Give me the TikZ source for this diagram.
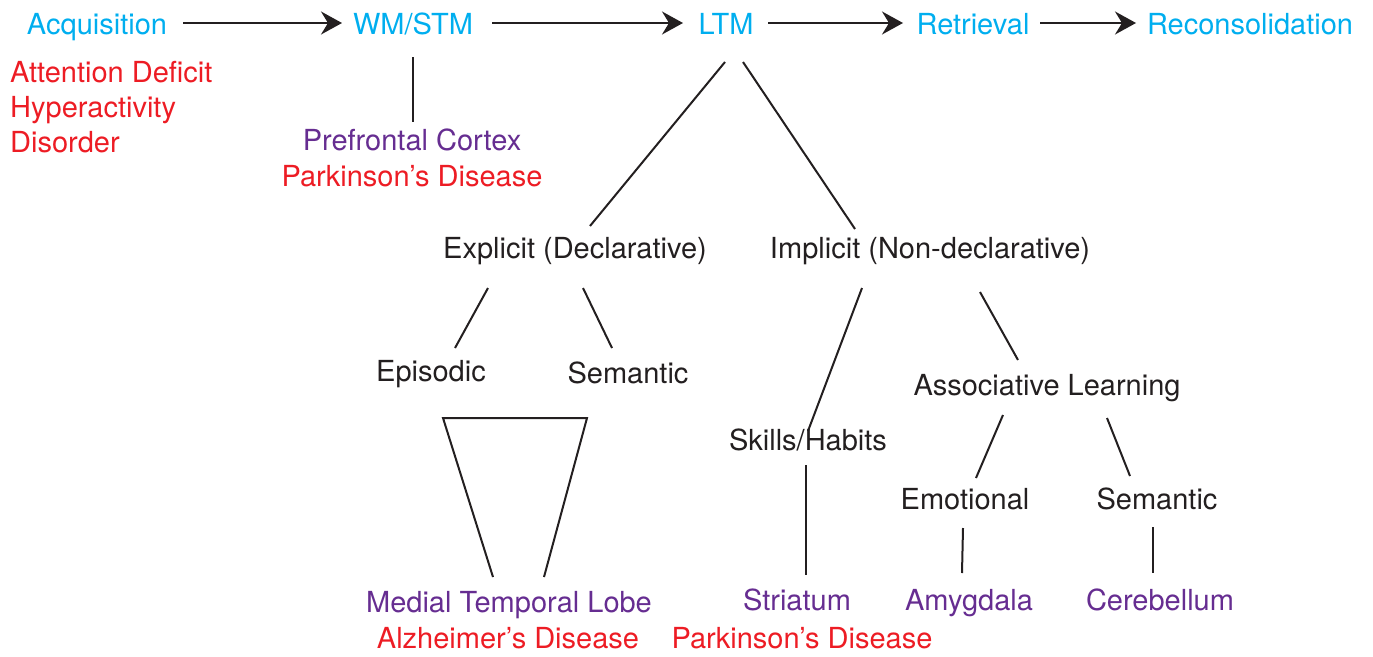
\documentclass[tikz,border=0pt]{standalone}
\usepackage{fontspec}
\setmainfont{TeX Gyre Heros}
\usetikzlibrary{arrows.meta}
\definecolor{cy}{HTML}{00AEEF}
\definecolor{rd}{HTML}{ED1C24}
\definecolor{pu}{HTML}{662D91}
\definecolor{bk}{HTML}{231F20}
\begin{document}
\begin{tikzpicture}[x=1pt,y=-1pt,
  every node/.style={inner sep=0pt,anchor=base,font=\fontsize{29}{35}\selectfont},
  stage/.style={text=cy},
  dis/.style={text=rd},
  region/.style={text=pu},
  kind/.style={text=bk},
  link/.style={draw=bk,line width=2pt},
  flow/.style={link,-{Stealth[length=21pt,width=23pt,inset=7pt]}}]
\useasboundingbox (0,0) rectangle (1373,656);
% top row
\node[stage] (acq) at (97,34) {Acquisition};
\node[stage] (wm) at (413,34) {WM/STM};
\node[stage] (ltm) at (726,34) {LTM};
\node[stage] (ret) at (973,34) {Retrieval};
\node[stage] (rec) at (1250,34) {Reconsolidation};
\draw[flow] (183,23) coordinate (a1) -- (342,23) coordinate (a2);
\draw[flow] (492,23) coordinate (b1) -- (683,23) coordinate (b2);
\draw[flow] (768,23) coordinate (c1) -- (903,23) coordinate (c2);
\draw[flow] (1040,23) coordinate (d1) -- (1136,23) coordinate (d2);
% ADHD
\node[dis,anchor=base west,align=left] (adhd) at (10,152) {Attention Deficit\\Hyperactivity\\Disorder};
% WM branch
\node[region] (pfc) at (412,150) {Prefrontal Cortex};
\node[dis] (pd1) at (412,186) {Parkinson’s Disease};
\draw[link] (413,57) -- (413,122);
% LTM branches
\node[kind] (exp) at (575,258) {Explicit (Declarative)};
\node[kind] (imp) at (930,258) {Implicit (Non-declarative)};
\draw[link] (725,62) -- (590,226);
\draw[link] (743,62) -- (855,229);
% explicit
\node[kind] (epi) at (431,381) {Episodic};
\node[kind] (sem1) at (628,383) {Semantic};
\draw[link] (488,288) -- (455,348);
\draw[link] (583,288) -- (612,348);
\draw[link,line join=miter] (493,577) -- (443,418) -- (587,418) -- (544,577);
\node[region] (mtl) at (509,612) {Medial Temporal Lobe};
\node[dis] (ad) at (508,648) {Alzheimer’s Disease};
% implicit
\node[kind] (ski) at (808,450) {Skills/Habits};
\node[kind] (ass) at (1047,395) {Associative Learning};
\draw[link] (862,288) -- (808,431);
\draw[link] (980,292) -- (1018,360);
\draw[link] (806,465) -- (806,575);
\node[region] (str) at (797,610) {Striatum};
\node[dis] (pd2) at (802,648) {Parkinson’s Disease};
% associative
\node[kind] (emo) at (965,509) {Emotional};
\node[kind] (sem2) at (1157,509) {Semantic};
\draw[link] (1003,415) -- (976,478);
\draw[link] (1107,418) -- (1130,476);
\draw[link] (963,528) -- (962,573);
\draw[link] (1153,527) -- (1153,573);
\node[region] (amy) at (969,610) {Amygdala};
\node[region] (cer) at (1160,610) {Cerebellum};
\end{tikzpicture}
\end{document}
